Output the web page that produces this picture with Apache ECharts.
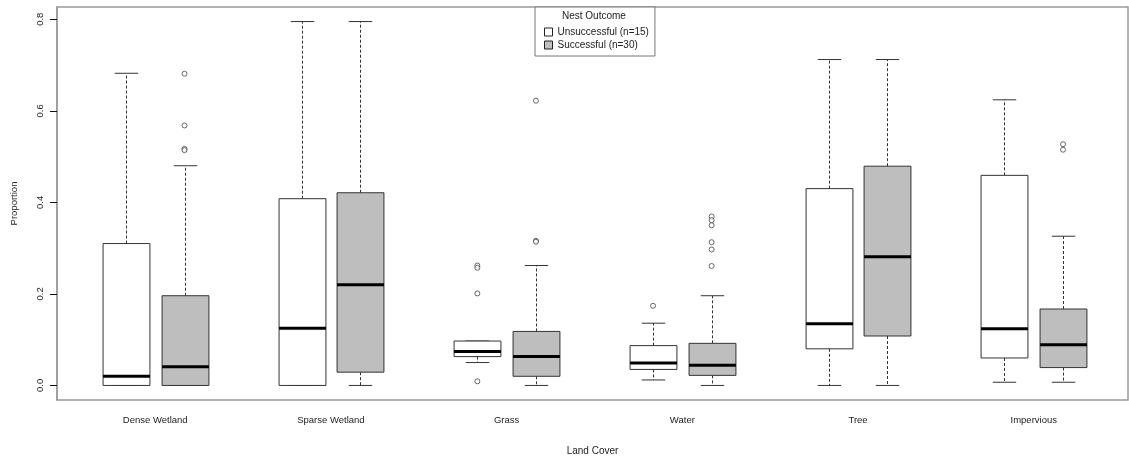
<!DOCTYPE html>
<html>
<head>
<meta charset="utf-8">
<script src="https://cdn.jsdelivr.net/npm/echarts@6/dist/echarts.min.js"></script>
<style>
html,body{margin:0;padding:0;background:#fff;}
#chart{width:1129px;height:458px;}
</style>
</head>
<body>
<div id="chart"></div>
<script>
// ---------- data ----------
const categories = ['Dense Wetland', 'Sparse Wetland', 'Grass', 'Water', 'Tree', 'Impervious'];
const seriesNames = ['Unsuccessful (n=15)', 'Successful (n=30)'];
// [lower whisker, Q1, median, Q3, upper whisker]
const unsuccessfulStats = [
  [0.000, 0.000, 0.020, 0.310, 0.682],
  [0.000, 0.000, 0.125, 0.408, 0.795],
  [0.050, 0.063, 0.074, 0.097, 0.097],
  [0.012, 0.035, 0.049, 0.087, 0.136],
  [0.000, 0.080, 0.135, 0.430, 0.712],
  [0.007, 0.060, 0.124, 0.459, 0.624]
];
const successfulStats = [
  [0.000, 0.000, 0.041, 0.196, 0.480],
  [0.000, 0.029, 0.220, 0.421, 0.795],
  [0.000, 0.020, 0.063, 0.118, 0.262],
  [0.000, 0.022, 0.044, 0.092, 0.196],
  [0.000, 0.108, 0.281, 0.479, 0.712],
  [0.007, 0.039, 0.089, 0.167, 0.326]
];
// [category index, value]
const unsuccessfulOutliers = [
  [2, 0.262], [2, 0.257], [2, 0.201], [2, 0.009],
  [3, 0.174]
];
const successfulOutliers = [
  [0, 0.681], [0, 0.568], [0, 0.517], [0, 0.514],
  [2, 0.622], [2, 0.316], [2, 0.314],
  [3, 0.369], [3, 0.361], [3, 0.350], [3, 0.313], [3, 0.297], [3, 0.261],
  [5, 0.527], [5, 0.515]
];
const yTicks = [0.0, 0.2, 0.4, 0.6, 0.8];

// ---------- layout helpers ----------
const BOX_W = 0.8;           // box width in x-axis units
const posOf = (g, s) => g * 3 + 1 + s;   // box position: group g, series s
const groupCenters = categories.map((c, g) => g * 3 + 1.5);

const boxData = (stats, s) => stats.map((r, g) => [posOf(g, s)].concat(r));
const outData = (outs, s) => outs.map(o => [posOf(o[0], s), o[1]]);

function makeRender(fill) {
  return function (params, api) {
    const pos = api.value(0);
    const v = [1, 2, 3, 4, 5].map(i => api.value(i));
    const half = api.size([BOX_W, 0])[0] / 2;
    const capHalf = half / 2;
    const c = val => api.coord([pos, val]);
    const low = c(v[0]), q1 = c(v[1]), med = c(v[2]), q3 = c(v[3]), high = c(v[4]);
    const x = Math.round(low[0]) + 0.5;
    const stroke = '#333';
    const dash = {stroke: stroke, lineWidth: 1, lineDash: [3, 2]};
    const solid = {stroke: stroke, lineWidth: 1};
    return {
      type: 'group',
      children: [
        {type: 'line', shape: {x1: x, y1: q3[1], x2: x, y2: high[1]}, style: dash},
        {type: 'line', shape: {x1: x, y1: q1[1], x2: x, y2: low[1]}, style: dash},
        {type: 'line', shape: {x1: x - capHalf, y1: high[1], x2: x + capHalf, y2: high[1]}, style: solid},
        {type: 'line', shape: {x1: x - capHalf, y1: low[1], x2: x + capHalf, y2: low[1]}, style: solid},
        {type: 'rect', shape: {x: x - half, y: q3[1], width: half * 2, height: q1[1] - q3[1]},
          style: {fill: fill, stroke: stroke, lineWidth: 1}},
        {type: 'line', shape: {x1: x - half, y1: med[1], x2: x + half, y2: med[1]},
          style: {stroke: '#000', lineWidth: 3}}
      ]
    };
  };
}

const FONT = 'Liberation Sans, Arial, sans-serif';
const chart = echarts.init(document.getElementById('chart'), null, {renderer: 'canvas'});
chart.setOption({
  animation: false,
  backgroundColor: '#fff',
  textStyle: {fontFamily: FONT},
  title: {
    text: 'Nest Outcome',
    left: 562, top: 11, padding: 0,
    textStyle: {fontFamily: FONT, fontSize: 10, fontWeight: 'normal', color: '#222'}
  },
  legend: {
    orient: 'vertical',
    left: 535, top: 7,
    padding: [19, 6, 5, 9],
    itemGap: 1,
    itemWidth: 8, itemHeight: 8,
    backgroundColor: '#fff',
    borderColor: '#777', borderWidth: 1,
    textStyle: {fontFamily: FONT, fontSize: 10, color: '#222', lineHeight: 12},
    data: [
      {name: seriesNames[0], icon: 'rect', itemStyle: {color: '#fff', borderColor: '#222', borderWidth: 1}},
      {name: seriesNames[1], icon: 'rect', itemStyle: {color: '#bebebe', borderColor: '#222', borderWidth: 1}}
    ],
    selectedMode: false
  },
  grid: {
    left: 57, right: 1, top: 7, bottom: 58,
    outerBoundsMode: 'none',
    containLabel: false,
    show: true, borderColor: '#999', borderWidth: 1.5, backgroundColor: 'transparent'
  },
  xAxis: {
    type: 'value',
    min: -0.177, max: 18.109,
    axisLine: {show: false, onZero: false},
    axisTick: {show: false},
    splitLine: {show: false},
    axisLabel: {
      customValues: groupCenters,
      formatter: v => categories[Math.round((v - 1.5) / 3)],
      fontFamily: FONT, fontSize: 9.5, color: '#222', margin: 15
    },
    name: 'Land Cover',
    nameLocation: 'middle',
    nameGap: 46,
    nameTextStyle: {fontFamily: FONT, fontSize: 10, color: '#222'}
  },
  yAxis: {
    type: 'value',
    min: -0.0318, max: 0.8268,
    axisLine: {show: true, onZero: false, lineStyle: {color: '#999', width: 1.5}},
    splitLine: {show: false},
    axisTick: {show: true, inside: false, customValues: yTicks, length: 7, lineStyle: {color: '#111', width: 1}},
    axisLabel: {
      customValues: yTicks,
      formatter: v => v.toFixed(1),
      rotate: 90,
      fontFamily: FONT, fontSize: 9.5, color: '#222', margin: 12
    },
    name: 'Proportion',
    nameLocation: 'middle',
    nameRotate: 90,
    nameGap: 38,
    nameTextStyle: {fontFamily: FONT, fontSize: 9.5, color: '#222'}
  },
  series: [
    {
      name: seriesNames[0], type: 'custom',
      renderItem: makeRender('#ffffff'),
      itemStyle: {color: '#ffffff', borderColor: '#222'},
      encode: {x: 0, y: [1, 2, 3, 4, 5]},
      data: boxData(unsuccessfulStats, 0), z: 3
    },
    {
      name: seriesNames[1], type: 'custom',
      renderItem: makeRender('#bebebe'),
      itemStyle: {color: '#bebebe', borderColor: '#222'},
      encode: {x: 0, y: [1, 2, 3, 4, 5]},
      data: boxData(successfulStats, 1), z: 3
    },
    {
      name: 'Unsuccessful outliers', type: 'scatter',
      symbol: 'circle', symbolSize: 5,
      itemStyle: {color: '#fff', borderColor: '#444', borderWidth: 1},
      data: outData(unsuccessfulOutliers, 0), z: 4
    },
    {
      name: 'Successful outliers', type: 'scatter',
      symbol: 'circle', symbolSize: 5,
      itemStyle: {color: '#fff', borderColor: '#444', borderWidth: 1},
      data: outData(successfulOutliers, 1), z: 4
    }
  ]
});
</script>
</body>
</html>
